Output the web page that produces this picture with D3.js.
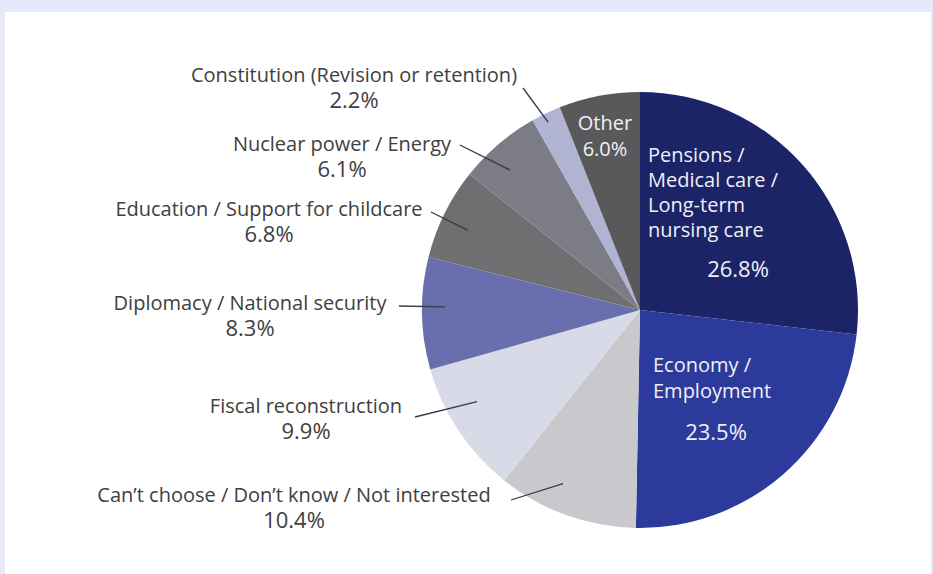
<!DOCTYPE html>
<html>
<head>
<meta charset="utf-8">
<script src="https://cdn.jsdelivr.net/npm/d3@7"></script>
<style>
html,body{margin:0;padding:0;background:#e6e9fa;}
svg{display:block;}
</style>
</head>
<body>
<svg id="chart" width="933" height="574"></svg>
<script>
// ---- data ----
const categories = [
  "Pensions / Medical care / Long-term nursing care",
  "Economy / Employment",
  "Can’t choose / Don’t know / Not interested",
  "Fiscal reconstruction",
  "Diplomacy / National security",
  "Education / Support for childcare",
  "Nuclear power / Energy",
  "Constitution (Revision or retention)",
  "Other"
];
const values = [26.8, 23.5, 10.4, 9.9, 8.3, 6.8, 6.1, 2.2, 6.0];
const colors = ["#1b2467", "#2c3b9b", "#c9c9cd", "#d9dae7", "#696ead", "#6f6f71", "#7c7c86", "#b1b3d2", "#59595c"];
const labelLines = [
  ["Pensions /", "Medical care /", "Long-term", "nursing care"],
  ["Economy /", "Employment"],
  ["Can’t choose / Don’t know / Not interested"],
  ["Fiscal reconstruction"],
  ["Diplomacy / National security"],
  ["Education / Support for childcare"],
  ["Nuclear power / Energy"],
  ["Constitution (Revision or retention)"],
  ["Other"]
];

// ---- layout (positions, not data) ----
const cx = 640, cy = 310, R = 218;
const outside = {
  2: {x: 294, y: 502, lx: 511, ly: 500, r: 190, da: 4.1},
  3: {x: 306, y: 413, lx: 415, ly: 417, r: 187, da: 4.3},
  4: {x: 250, y: 310, lx: 399, ly: 306, r: 195, da: 1.8},
  5: {x: 269, y: 216, lx: 431, ly: 212, r: 190, da: -1.4},
  6: {x: 342, y: 151, lx: 460, ly: 145, r: 191, da: -2.4},
  7: {x: 354, y: 82,  lx: 523, ly: 88,  r: 209, da: -0.5}
};
const inside = {
  0: {x: 648, y: 162, anchor: "start", lh: 25, px: 738, py: 277},
  1: {x: 653, y: 372, anchor: "start", lh: 26, px: 716, py: 440},
  8: {x: 605, y: 130, anchor: "middle", lh: 26, px: 605, py: 156}
};

const svg = d3.select("#chart");
svg.append("rect").attr("x", 5).attr("y", 12).attr("width", 926).attr("height", 562).attr("fill", "#ffffff");

const FONT = "'Open Sans', 'Noto Sans', sans-serif";
const FS = 20;
const PFS = 22;
const LH = 26;

const pie = d3.pie().value(d => d).sort(null);
const arcs = pie(values);
const arc = d3.arc().innerRadius(0).outerRadius(R);

const g = svg.append("g").attr("transform", `translate(${cx},${cy})`);
g.selectAll("path.slice").data(arcs).join("path")
  .attr("class", "slice")
  .attr("d", arc)
  .attr("fill", (d, i) => colors[i]);

const fmt = d3.format(".1f");

Object.keys(outside).forEach(k => {
  const i = +k, o = outside[i], a = arcs[i];
  const mid = (a.startAngle + a.endAngle) / 2 + o.da * Math.PI / 180;
  const ix = cx + o.r * Math.sin(mid), iy = cy - o.r * Math.cos(mid);
  svg.append("line")
    .attr("x1", o.lx).attr("y1", o.ly).attr("x2", ix).attr("y2", iy)
    .attr("stroke", "#3a3a44").attr("stroke-width", 1.3);
  const t = svg.append("text")
    .attr("font-family", FONT).attr("font-size", FS).attr("fill", "#404040")
    .attr("text-anchor", "middle");
  labelLines[i].forEach((s, j) => {
    t.append("tspan").attr("x", o.x).attr("y", o.y + j * LH).text(s);
  });
  t.append("tspan").attr("x", o.x).attr("y", o.y + labelLines[i].length * LH)
    .attr("font-size", PFS)
    .text(fmt(values[i]) + "%");
});

Object.keys(inside).forEach(k => {
  const i = +k, o = inside[i];
  const t = svg.append("text")
    .attr("font-family", FONT).attr("font-size", FS).attr("fill", "#f0f0f4")
    .attr("text-anchor", o.anchor);
  labelLines[i].forEach((s, j) => {
    t.append("tspan").attr("x", o.x).attr("y", o.y + j * o.lh).text(s);
  });
  svg.append("text")
    .attr("font-family", FONT).attr("font-size", i === 8 ? FS : PFS).attr("fill", "#f0f0f4")
    .attr("text-anchor", "middle")
    .attr("x", o.px).attr("y", o.py)
    .text(fmt(values[i]) + "%");
});
</script>
</body>
</html>
